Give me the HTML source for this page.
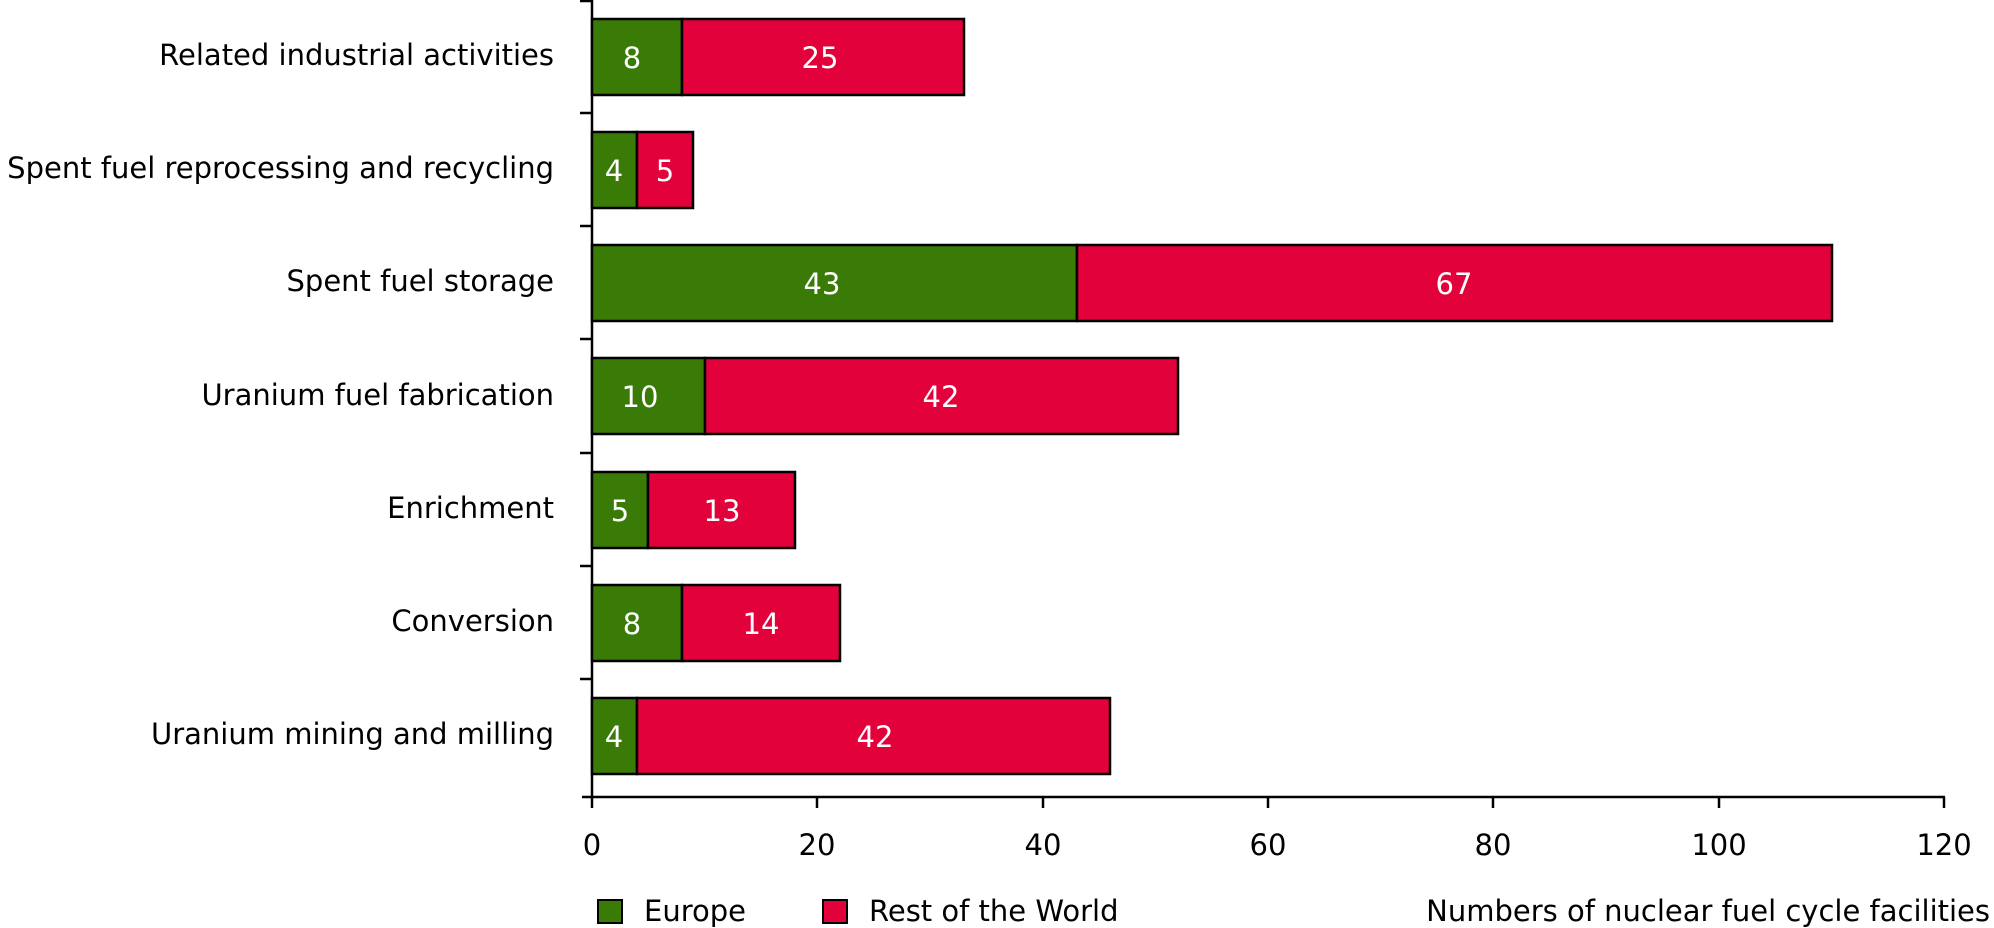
<!DOCTYPE html>
<html><head><meta charset="utf-8"><style>html,body{margin:0;padding:0;background:#fff}svg{display:block}</style></head>
<body>
<svg width="1994" height="928" xmlns="http://www.w3.org/2000/svg" font-family="'DejaVu Sans','Liberation Sans',sans-serif" font-size="29">
<g stroke="#000" stroke-width="2.5" fill="none">
<line x1="592" y1="0" x2="592" y2="798"/>
<line x1="582" y1="797" x2="1945" y2="797"/>
<line x1="580" y1="1" x2="592" y2="1"/>
<line x1="580" y1="113" x2="592" y2="113"/>
<line x1="580" y1="226" x2="592" y2="226"/>
<line x1="580" y1="339" x2="592" y2="339"/>
<line x1="580" y1="453" x2="592" y2="453"/>
<line x1="580" y1="566" x2="592" y2="566"/>
<line x1="580" y1="679" x2="592" y2="679"/>
<line x1="592" y1="797" x2="592" y2="808"/>
<line x1="817" y1="797" x2="817" y2="808"/>
<line x1="1043" y1="797" x2="1043" y2="808"/>
<line x1="1268" y1="797" x2="1268" y2="808"/>
<line x1="1493" y1="797" x2="1493" y2="808"/>
<line x1="1719" y1="797" x2="1719" y2="808"/>
<line x1="1944" y1="797" x2="1944" y2="808"/>
</g>
<g text-anchor="middle" fill="#000">
<text x="592" y="855">0</text><text x="817" y="855">20</text><text x="1043" y="855">40</text><text x="1268" y="855">60</text><text x="1493" y="855">80</text><text x="1719" y="855">100</text><text x="1944" y="855">120</text>
</g>
<g text-anchor="end" fill="#000">
<text x="554" y="65">Related industrial activities</text>
<text x="554" y="178">Spent fuel reprocessing and recycling</text>
<text x="554" y="291">Spent fuel storage</text>
<text x="554" y="405">Uranium fuel fabrication</text>
<text x="554" y="518">Enrichment</text>
<text x="554" y="631">Conversion</text>
<text x="554" y="744">Uranium mining and milling</text>
</g>
<g stroke="#000" stroke-width="2.5">
<rect x="592" y="19" width="90" height="76" fill="#3a7a06"/><rect x="682" y="19" width="282" height="76" fill="#e2013b"/>
<rect x="592" y="132" width="45" height="76" fill="#3a7a06"/><rect x="637" y="132" width="56" height="76" fill="#e2013b"/>
<rect x="592" y="245" width="485" height="76" fill="#3a7a06"/><rect x="1077" y="245" width="755" height="76" fill="#e2013b"/>
<rect x="592" y="358" width="113" height="76" fill="#3a7a06"/><rect x="705" y="358" width="473" height="76" fill="#e2013b"/>
<rect x="592" y="472" width="56" height="76" fill="#3a7a06"/><rect x="648" y="472" width="147" height="76" fill="#e2013b"/>
<rect x="592" y="585" width="90" height="76" fill="#3a7a06"/><rect x="682" y="585" width="158" height="76" fill="#e2013b"/>
<rect x="592" y="698" width="45" height="76" fill="#3a7a06"/><rect x="637" y="698" width="473" height="76" fill="#e2013b"/>
</g>
<g fill="#fff" text-anchor="middle">
<text x="632" y="68">8</text><text x="820" y="68">25</text>
<text x="614" y="181">4</text><text x="665" y="181">5</text>
<text x="822" y="294">43</text><text x="1454" y="294">67</text>
<text x="640" y="407">10</text><text x="941" y="407">42</text>
<text x="620" y="521">5</text><text x="722" y="521">13</text>
<text x="632" y="634">8</text><text x="761" y="634">14</text>
<text x="614" y="747">4</text><text x="875" y="747">42</text>
</g>
<rect x="598" y="900" width="24" height="23" fill="#3a7a06" stroke="#000" stroke-width="2"/>
<text x="644" y="921">Europe</text>
<rect x="823" y="900" width="24" height="23" fill="#e2013b" stroke="#000" stroke-width="2"/>
<text x="869" y="921">Rest of the World</text>
<text x="1990" y="921" text-anchor="end">Numbers of nuclear fuel cycle facilities</text>
</svg>
</body></html>
